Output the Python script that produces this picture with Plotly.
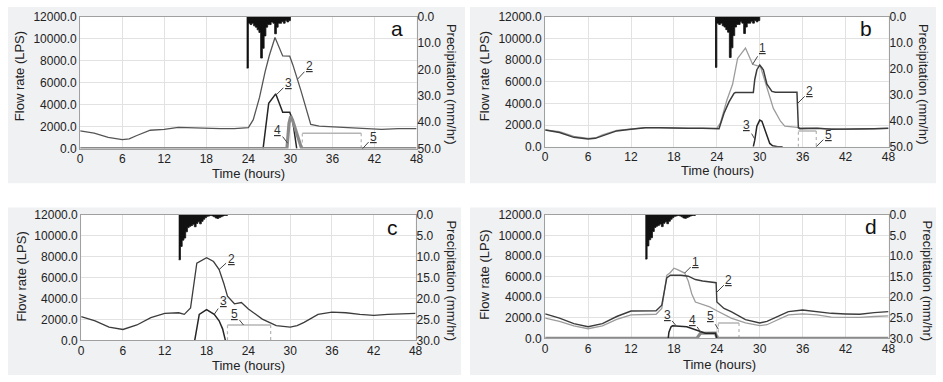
import plotly.graph_objects as go

W, H = 943, 382

# ---------------- DATA ----------------
time_ticks = [0, 6, 12, 18, 24, 30, 36, 42, 48]
flow_ticks = [0, 2000, 4000, 6000, 8000, 10000, 12000]

# rainfall (mm/hr), 15-min bins, start times (last entry closes the final bin)
rain_ab_time = [23.75, 24.0, 24.25, 24.5, 24.75, 25.0, 25.25, 25.5, 25.75, 26.0, 26.25, 26.5, 26.75,
                27.0, 27.25, 27.5, 27.75, 28.0, 28.25, 28.5, 28.75, 29.0, 29.25, 29.5, 29.75, 30.0]
rain_ab = [19.5, 2.5, 3.0, 2.5, 3.5, 4.0, 5.0, 6.0, 15.7, 12.0, 7.3, 4.0, 3.0,
           3.0, 2.0, 2.5, 6.5, 4.0, 2.5, 2.5, 1.8, 2.5, 1.5, 2.0, 1.5, 0.0]
rain_cd_time = [14.0, 14.25, 14.5, 14.75, 15.0, 15.25, 15.5, 15.75, 16.0, 16.25, 16.5, 16.75, 17.0, 17.25,
                17.5, 17.75, 18.0, 18.25, 18.5, 18.75, 19.0, 19.25, 19.5, 19.75, 20.0, 20.25, 20.5, 20.75,
                21.0]
rain_cd = [10.7, 7.5, 6.0, 5.5, 4.0, 3.0, 2.7, 2.5, 2.2, 2.8, 2.0, 1.6, 2.1, 1.5,
           1.0, 0.6, 0.3, 0.2, 0.1, 0.2, 0.4, 0.7, 0.8, 0.6, 0.4, 0.2, 0.1, 0.1, 0.0]

# panel a
a_t2 = [0, 2, 4, 6, 7, 8, 10, 12, 14, 16, 18, 20, 22, 24, 24.7, 25.6, 26.4, 27.0, 27.8, 28.9, 29.9,
        30.35, 31.5, 32.2, 32.9, 34.1, 36, 38.8, 40.7, 43, 45.4, 48]
a_q2 = [1610, 1400, 1025, 820, 880, 1170, 1670, 1750, 1930, 1870, 1815, 1815, 1815, 1900, 2630, 4680,
        7020, 8490, 10100, 8430, 8400, 7610, 5270, 3800, 2200, 2050, 1990, 1900, 1815, 1750, 1815, 1815]
a_t3 = [26.1, 26.9, 27.9, 28.9, 29.9, 30.3, 30.9]
a_q3 = [0, 4120, 4980, 3300, 3300, 2630, 0]
a_t4 = [0, 29.5, 29.8, 30.05, 30.3, 30.65, 31.1, 31.6, 48]
a_q4 = [0, 0, 2300, 2950, 2600, 1900, 1000, 0, 0]
a_t5 = [31.7, 31.7, 40.1]
a_q5 = [0, 1400, 0]

# panel b
b_t1 = [0, 2, 4, 6, 7, 8, 10, 12, 14, 16, 18, 20, 22, 24, 24.5, 25.4, 26.2, 26.9, 28.0, 28.4, 29.0,
        29.6, 30.1, 31.0, 31.9, 32.9, 33.5, 35.6, 38, 40, 42, 44, 46, 48]
b_q1 = [1560, 1380, 960, 760, 800, 1080, 1500, 1620, 1750, 1750, 1690, 1690, 1690, 1700, 2200, 4280,
        5760, 8140, 9100, 8440, 7600, 7480, 7400, 5460, 3530, 2350, 1900, 1750, 1690, 1600, 1600,
        1630, 1660, 1690]
b_t2 = [0, 2, 4, 6, 7, 8, 10, 12, 14, 16, 18, 20, 22, 24, 24.3, 25.0, 25.7, 26.4, 26.6, 29.1, 29.3,
        29.6, 30.0, 30.5, 31.0, 31.7, 32.2, 35.2, 35.4, 35.6, 38, 40, 42, 44, 46, 48]
b_q2 = [1540, 1310, 860, 710, 770, 1010, 1455, 1600, 1750, 1750, 1690, 1690, 1690, 1690, 1660, 3090,
        4130, 4930, 4990, 4990, 6200, 7100, 7540, 7100, 5760, 5100, 5020, 5020, 1750, 1660, 1690,
        1600, 1600, 1630, 1660, 1690]
b_t3 = [29.1, 29.3, 29.6, 30.0, 30.3, 30.7, 31.0, 31.4, 31.8, 32.5, 33.2]
b_q3 = [0, 600, 1900, 2450, 2350, 1600, 900, 300, 80, 0, 0]
b_t5 = [35.4, 35.4, 37.9]
b_q5 = [0, 1450, 0]

# panel c
c_t2 = [0, 2, 4, 6, 8, 10, 12, 14, 14.8, 15.7, 16.6, 17, 18, 19, 19.8, 20.5, 21, 22, 23, 24, 25, 26,
        27, 28, 30, 31, 32, 34, 36, 38, 40, 42, 44, 46, 48]
c_q2 = [2270, 1870, 1260, 1040, 1470, 2180, 2580, 2640, 2490, 3100, 7400, 7550, 7920, 7550, 6780, 5400,
        4240, 3500, 3620, 3010, 2490, 2030, 1720, 1410, 1260, 1410, 1720, 2490, 2700, 2640, 2490,
        2390, 2490, 2550, 2580]
c_t3 = [16.3, 16.95, 18, 19.1, 19.8, 20.3, 20.7]
c_q3 = [0, 2490, 2950, 2490, 1870, 1100, 0]
c_t5 = [21.0, 21.0, 27.2]
c_q5 = [0, 1470, 0]

# panel d
d_t1 = [0, 2, 4, 6, 8, 10, 12, 14, 15.5, 16.3, 17, 17.5, 18, 18.5, 19, 19.5, 20, 20.5, 21, 22, 22.5, 23,
        24, 25, 26, 28, 30, 31, 32, 34, 36, 38, 40, 42, 44, 46, 48]
d_q1 = [1970, 1650, 1220, 940, 1220, 1850, 2290, 2290, 2350, 2910, 6140, 6420, 6830, 6700, 6520, 6360,
        5580, 4320, 3540, 3320, 3200, 3070, 2690, 2290, 1970, 1500, 1250, 1330, 1660, 2290, 2380,
        2290, 2070, 2040, 2040, 2130, 2190]
d_t2 = [0, 2, 4, 6, 8, 10, 12, 14, 15.5, 16.3, 17, 17.5, 18, 19, 20, 21, 22, 23, 23.9, 24.0, 25, 26,
        27, 28, 30, 31, 32, 34, 36, 38, 40, 42, 44, 46, 48]
d_q2 = [2380, 1970, 1440, 1130, 1440, 2130, 2660, 2660, 2690, 3230, 5890, 6140, 6140, 6140, 6050, 5730,
        5580, 5480, 5420, 3540, 2910, 2600, 2190, 1820, 1500, 1660, 1970, 2600, 2760, 2600, 2440,
        2380, 2350, 2510, 2600]
d_t3 = [17.2, 17.3, 17.6, 17.8, 19.8, 21.5, 22.4, 23.8, 24.0]
d_q3 = [0, 600, 1130, 1220, 1130, 720, 500, 500, 0]
d_t4 = [0, 21.2, 21.7, 23.8, 24.05, 48]
d_q4 = [0, 0, 500, 520, 0, 0]
d_t5 = [24.2, 24.2, 27.1]
d_q5 = [0, 1500, 0]

# ---------------- STYLE ----------------
FONT = "Liberation Sans, Arial, sans-serif"
TXT = "#222222"
C1, C2, C3, C4, C5 = "#9c9c9c", "#3c3c3c", "#262626", "#8a8a8a", "#b4b4b4"
GRID = "#e2e2e2"
FRAME = "#a0a0a0"
BG = "#f0f1f3"
TICK = 12

# plot areas in pixels: (left, right, top, bottom)
boxes = [(78, 418, 10, 147), (548, 895, 10, 145), (79, 417, 216, 346), (548, 895, 216, 344)]
panels_bg = [(5, 467, 0, 183), (472, 943, 0, 183), (5, 463, 208, 382), (472, 943, 208, 382)]
precip_max = [50, 50, 30, 30]
precip_dtick = [10, 10, 5, 5]


def xid(i):
    return "x" if i == 0 else f"x{i+1}"


def yid(n):
    return "y" if n == 0 else f"y{n+1}"


fig = go.Figure()


def line(i, t, q, color, width, shape="linear", dash="solid"):
    fig.add_trace(go.Scatter(x=t, y=q, mode="lines",
                             line=dict(color=color, width=width, shape=shape, dash=dash),
                             xaxis=xid(i), yaxis=yid(i), showlegend=False, hoverinfo="skip"))


def step5(i, t, q):
    # solid plateau, dotted rising / falling edges
    line(i, [t[1], t[2]], [q[1], q[1]], C5, 1.4)
    line(i, [t[0], t[1], None, t[2], t[2]], [q[0], q[1], None, q[1], q[2]], C5, 1.2, dash="dot")


def rain(i, t, r):
    fig.add_trace(go.Scatter(x=t, y=r, mode="lines", line=dict(color="#111111", width=0.8, shape="hv"),
                             fill="tozeroy", fillcolor="#111111",
                             xaxis=xid(i), yaxis=yid(i + 4), showlegend=False, hoverinfo="skip"))


# panel a
rain(0, rain_ab_time, rain_ab)
line(0, a_t2, a_q2, "#555555", 1.3)
step5(0, a_t5, a_q5)
line(0, a_t3, a_q3, C3, 1.5)
line(0, a_t4, a_q4, C4, 3.2)
# panel b
rain(1, rain_ab_time, rain_ab)
line(1, b_t1, b_q1, C1, 1.3)
line(1, b_t2, b_q2, C2, 1.5)
step5(1, b_t5, b_q5)
line(1, b_t3, b_q3, C3, 1.5)
# panel c
rain(2, rain_cd_time, rain_cd)
line(2, c_t2, c_q2, C2, 1.3)
step5(2, c_t5, c_q5)
line(2, c_t3, c_q3, C3, 1.5)
# panel d
rain(3, rain_cd_time, rain_cd)
line(3, d_t1, d_q1, C1, 1.3)
line(3, d_t2, d_q2, C2, 1.4)
step5(3, d_t5, d_q5)
line(3, d_t4, d_q4, C4, 3.2)
line(3, d_t3, d_q3, C3, 1.5)

layout = dict(width=W, height=H, margin=dict(l=0, r=0, t=0, b=0), paper_bgcolor="white",
              plot_bgcolor="white", font=dict(family=FONT, size=12, color=TXT),
              showlegend=False)
shapes, annos = [], []
for i, (l, r, t, b) in enumerate(boxes):
    xd = [l / W, r / W]
    yd = [1 - b / H, 1 - t / H]
    xk = "xaxis" if i == 0 else f"xaxis{i+1}"
    yk = "yaxis" if i == 0 else f"yaxis{i+1}"
    layout[xk] = dict(domain=xd, anchor=yid(i), range=[0, 48], tickvals=time_ticks,
                      showgrid=True, gridcolor=GRID, gridwidth=1, zeroline=False,
                      showline=True, linecolor=FRAME, linewidth=1, mirror=True,
                      ticks="", ticklabelstandoff=-1, tickfont=dict(size=TICK, color=TXT))
    layout[yk] = dict(domain=yd, anchor=xid(i), range=[0, 12000], tickvals=flow_ticks,
                      tickformat=".1f", showgrid=True, gridcolor=GRID, gridwidth=1,
                      zeroline=False, showline=True, linecolor=FRAME, linewidth=1,
                      mirror=True, ticks="", tickfont=dict(size=TICK, color=TXT))
    layout[f"yaxis{i+5}"] = dict(overlaying=yid(i), anchor=xid(i), side="right",
                                 range=[precip_max[i], 0], dtick=precip_dtick[i], tickformat=".1f",
                                 showgrid=False, zeroline=False, showline=False, ticks="",
                                 tickfont=dict(size=TICK, color=TXT))
    pl, pr, pt, pb = panels_bg[i]
    shapes.append(dict(type="rect", xref="paper", yref="paper", x0=pl / W, x1=pr / W,
                       y0=1 - pb / H, y1=1 - pt / H, fillcolor=BG, line=dict(width=0), layer="below"))
for i in range(4):
    shapes.append(dict(type="rect", xref=f"{xid(i)} domain", yref=f"{yid(i)} domain", x0=0, x1=1, y0=0,
                       y1=1, fillcolor="white", line=dict(width=0), layer="below"))
layout["shapes"] = shapes

# axis titles
ttl = dict(xref="paper", yref="paper", showarrow=False, xanchor="center", yanchor="middle",
           font=dict(size=13, color=TXT, family=FONT))
flow_title_pos = [(17, 72), (487, 72), (19, 280), (487, 278)]
prec_title_pos = [(454, 80), (931, 80), (453, 284), (934, 284)]
time_title_pos = [(248, 173), (722, 170), (248, 372), (724, 371)]
letters = ["a", "b", "c", "d"]
letter_pos = [(398, 22), (872, 22), (394, 229), (877, 228)]
for i in range(4):
    annos.append(dict(ttl, x=flow_title_pos[i][0] / W, y=1 - flow_title_pos[i][1] / H,
                      text="Flow rate (LPS)", textangle=-90))
    annos.append(dict(ttl, x=prec_title_pos[i][0] / W, y=1 - prec_title_pos[i][1] / H,
                      text="Precipitation (mm/hr)", textangle=90))
    annos.append(dict(ttl, x=time_title_pos[i][0] / W, y=1 - time_title_pos[i][1] / H,
                      text="Time (hours)"))
    annos.append(dict(xref="paper", yref="paper", showarrow=False, xanchor="center", yanchor="middle",
                      x=letter_pos[i][0] / W, y=1 - letter_pos[i][1] / H, text=letters[i],
                      font=dict(size=21, color="#111111", family=FONT)))

# series labels: (panel, label, tip time, tip flow, ax, ay)
labels = [
    (0, "2", 31.0, 6300, 12, -13), (0, "3", 28.0, 4900, 12, -12), (0, "4", 29.6, 500, -10, -13),
    (0, "5", 40.3, 0, 11, -12),
    (1, "1", 29.0, 7600, 10, -16), (1, "2", 35.3, 4000, 12, -12), (1, "3", 29.3, 700, -8, -14),
    (1, "5", 37.9, 0, 12, -12),
    (2, "2", 19.8, 6780, 12, -11), (2, "3", 19.1, 2490, 9, -13), (2, "5", 23.3, 1470, -9, -11),
    (3, "1", 19.5, 6360, 11, -11), (3, "2", 24.0, 4500, 12, -12), (3, "3", 18.3, 1230, -9, -11),
    (3, "4", 21.8, 560, -9, -13), (3, "5", 24.2, 900, -8, -13),
]
for p, txt, tx, qy, ax, ay in labels:
    annos.append(dict(xref=xid(p), yref=yid(p), x=tx, y=qy, text=f"<u>{txt}</u>",
                      showarrow=True, arrowhead=0, arrowwidth=1, arrowcolor="#444444", ax=ax, ay=ay,
                      standoff=0, font=dict(size=12, color="#333333", family=FONT)))
layout["annotations"] = annos

fig.update_layout(**layout)
fig.write_html("out.html", config={"displayModeBar": False},
               post_script="document.body.style.margin='0';document.body.style.overflow='hidden';")
